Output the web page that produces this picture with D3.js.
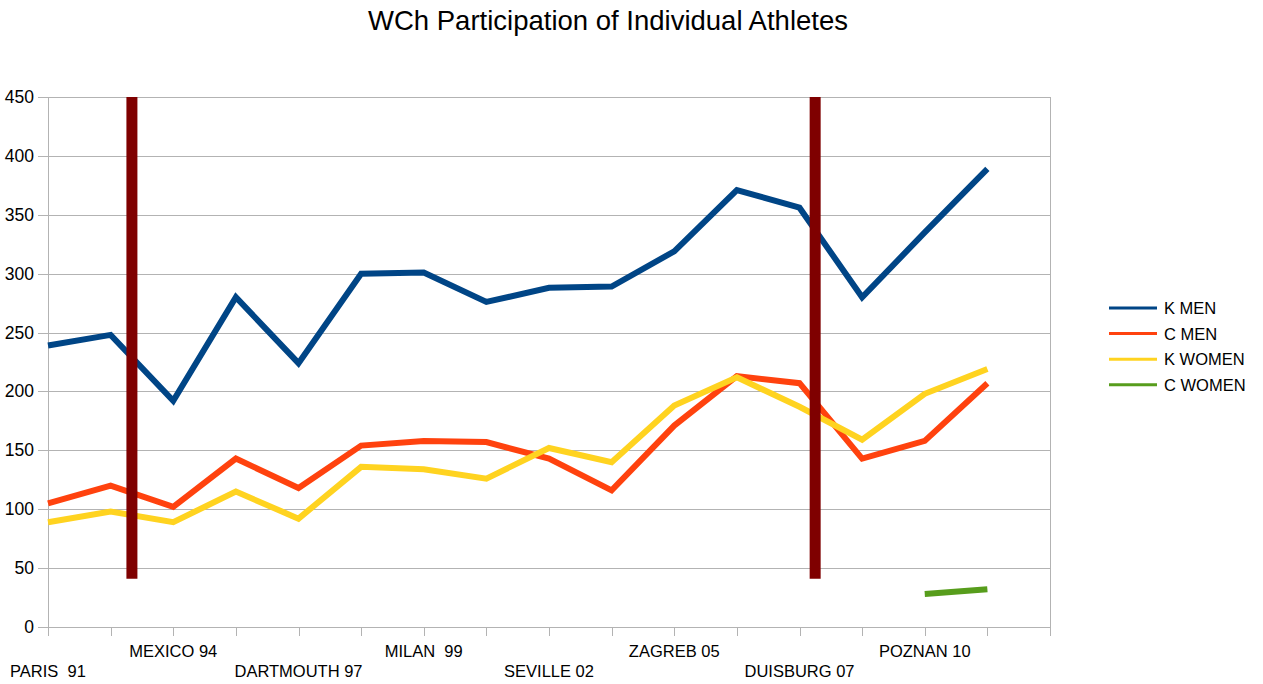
<!DOCTYPE html>
<html>
<head>
<meta charset="utf-8">
<script src="https://cdn.jsdelivr.net/npm/d3@7"></script>
<style>
  body { margin: 0; background: #fff; }
  text { font-family: "Liberation Sans", Arial, sans-serif; fill: #000; white-space: pre; }
</style>
</head>
<body>
<svg id="chart" width="1263" height="684"></svg>
<script>
const title = "WCh Participation of Individual Athletes";
const categories = ["PARIS  91", "", "MEXICO 94", "", "DARTMOUTH 97", "", "MILAN  99", "",
                    "SEVILLE 02", "", "ZAGREB 05", "", "DUISBURG 07", "", "POZNAN 10", ""];
const kMen   = [239, 248, 192, 280, 224, 300, 301, 276, 288, 289, 319, 371, 356, 280, 335, 389];
const cMen   = [105, 120, 102, 143, 118, 154, 158, 157, 143, 116, 171, 213, 207, 143, 158, 207];
const kWomen = [89, 98, 89, 115, 92, 136, 134, 126, 152, 140, 188, 212, 187, 159, 198, 219];
const cWomen = [null, null, null, null, null, null, null, null, null, null, null, null, null, null, 28, 32];
const seriesNames = ["K MEN", "C MEN", "K WOMEN", "C WOMEN"];
const seriesColors = ["#004586", "#ff420e", "#ffd320", "#579d1c"];
const yTicks = [0, 50, 100, 150, 200, 250, 300, 350, 400, 450];
// vertical dividers (category position, from value, to value)
const dividerPos = [1.34, 12.25];
const dividerRange = [41, 450];

const series = [kMen, cMen, kWomen, cWomen];

(function () {
const svg = d3.select("#chart");
const pLeft = 48, pRight = 1050, pTop = 97, pBottom = 627;

const x = d3.scaleLinear().domain([0, categories.length]).range([pLeft, pRight]);
const y = d3.scaleLinear().domain([0, 450]).range([pBottom, pTop]);

// gridlines
svg.append("g").selectAll("line").data(yTicks).join("line")
  .attr("x1", pLeft - 10).attr("x2", pRight)
  .attr("y1", d => Math.round(y(d)) + 0.5).attr("y2", d => Math.round(y(d)) + 0.5)
  .attr("stroke", "#b3b3b3").attr("stroke-width", 1);

// y axis line & right border
svg.append("line").attr("x1", pLeft + 0.5).attr("x2", pLeft + 0.5).attr("y1", pTop).attr("y2", pBottom + 9)
  .attr("stroke", "#b3b3b3");
svg.append("line").attr("x1", pRight + 0.5).attr("x2", pRight + 0.5).attr("y1", pTop).attr("y2", pBottom)
  .attr("stroke", "#b3b3b3");

// x ticks
const xTickIdx = d3.range(categories.length + 1);
svg.append("g").selectAll("line").data(xTickIdx).join("line")
  .attr("x1", d => Math.round(x(d)) + 0.5).attr("x2", d => Math.round(x(d)) + 0.5)
  .attr("y1", pBottom).attr("y2", pBottom + 9)
  .attr("stroke", "#b3b3b3");

// y labels
svg.append("g").selectAll("text").data(yTicks).join("text")
  .attr("x", 34).attr("y", d => y(d) + 6)
  .attr("text-anchor", "end").attr("font-size", 17.5)
  .text(d => d);

// x labels
svg.append("g").selectAll("text").data(categories.map((c, i) => ({c, i})).filter(d => d.c !== ""))
  .join("text")
  .attr("x", d => x(d.i))
  .attr("y", d => (Math.floor(d.i / 2) % 2 === 0) ? 677 : 657)
  .attr("text-anchor", "middle").attr("font-size", 16.5)
  .text(d => d.c);

// lines
const line = d3.line()
  .defined(d => d != null)
  .x((d, i) => x(i))
  .y(d => y(d));

series.forEach((s, k) => {
  svg.append("path").datum(s)
    .attr("d", line)
    .attr("fill", "none")
    .attr("stroke", seriesColors[k])
    .attr("stroke-width", 6)
    .attr("stroke-linejoin", "miter");
});

// dividers
svg.append("g").selectAll("line").data(dividerPos).join("line")
  .attr("x1", d => x(d)).attr("x2", d => x(d))
  .attr("y1", y(dividerRange[1])).attr("y2", y(dividerRange[0]))
  .attr("stroke", "#7f0000").attr("stroke-width", 11);

// legend
const lg = svg.append("g");
seriesNames.forEach((n, k) => {
  const yy = 308 + k * 25.6;
  lg.append("line").attr("x1", 1109).attr("x2", 1157).attr("y1", yy).attr("y2", yy)
    .attr("stroke", seriesColors[k]).attr("stroke-width", 3);
  lg.append("text").attr("x", 1164).attr("y", yy + 6).attr("font-size", 16.5).text(n);
});

// title
svg.append("text").attr("x", 608).attr("y", 30).attr("text-anchor", "middle")
  .attr("font-size", 27.5).text(title);
})();
</script>
</body>
</html>
